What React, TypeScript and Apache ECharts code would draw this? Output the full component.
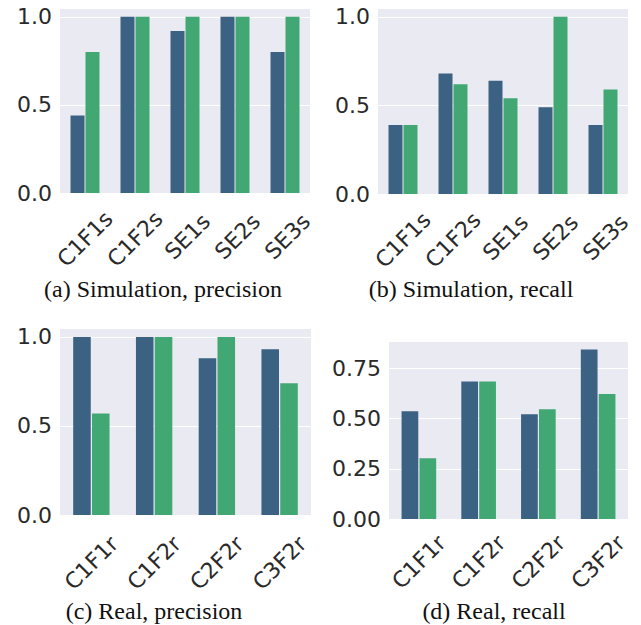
import React, { useEffect, useRef } from 'react';
import * as echarts from 'echarts';

// ---- data ----
const simCategories = ['C1F1s', 'C1F2s', 'SE1s', 'SE2s', 'SE3s'];
const realCategories = ['C1F1r', 'C1F2r', 'C2F2r', 'C3F2r'];

const simPrecisionBlue = [0.44, 1.0, 0.92, 1.0, 0.8];
const simPrecisionGreen = [0.8, 1.0, 1.0, 1.0, 1.0];

const simRecallBlue = [0.39, 0.68, 0.64, 0.49, 0.39];
const simRecallGreen = [0.39, 0.62, 0.54, 1.0, 0.59];

const realPrecisionBlue = [1.0, 1.0, 0.88, 0.93];
const realPrecisionGreen = [0.57, 1.0, 1.0, 0.74];

const realRecallBlue = [0.536, 0.685, 0.521, 0.844];
const realRecallGreen = [0.302, 0.685, 0.546, 0.622];

const captions = [
  '(a) Simulation, precision',
  '(b) Simulation, recall',
  '(c) Real, precision',
  '(d) Real, recall',
];

const precisionTickStep = 0.5;
const recallTickStep = 0.25;

// ---- styles ----
const BLUE = '#3b6283';
const GREEN = '#41a773';
const BG = '#EAEAF2';
const TXT = '#2a2a2a';
const FONT = 'DejaVu Sans';
const FS = 22;

function measure(text: string): number {
  const c = document.createElement('canvas').getContext('2d');
  if (!c) return text.length * FS * 0.6;
  c.font = `${FS}px "${FONT}"`;
  return c.measureText(text).width;
}

function categoryItems(cats: string[]) {
  const widths = cats.map(measure);
  const maxW = Math.max(...widths);
  return cats.map((c, i) => {
    const p = (maxW - widths[i]) * 0.5;
    return {
      value: c,
      textStyle: {
        align: 'center',
        verticalAlign: 'middle',
        fontFamily: FONT,
        fontSize: FS,
        color: TXT,
        padding: [0, 0, p, p],
      },
    };
  });
}

export default function App() {
  const ref = useRef<HTMLDivElement>(null);
  useEffect(() => {
    if (!ref.current) return;
    const chart = echarts.init(ref.current, undefined, { renderer: 'svg' });

    const panels = [
      { cats: simCategories, a: simPrecisionBlue, b: simPrecisionGreen, step: precisionTickStep, dec: 1,
        max: 1.05, grid: { left: 60, top: 8, width: 250, height: 185 }, margin: 46 },
      { cats: simCategories, a: simRecallBlue, b: simRecallGreen, step: precisionTickStep, dec: 1,
        max: 1.05, grid: { left: 378, top: 8, width: 250, height: 186 }, margin: 46 },
      { cats: realCategories, a: realPrecisionBlue, b: realPrecisionGreen, step: precisionTickStep, dec: 1,
        max: 1.05, grid: { left: 60, top: 328, width: 251, height: 187 }, margin: 48 },
      { cats: realCategories, a: realRecallBlue, b: realRecallGreen, step: recallTickStep, dec: 2,
        max: Math.max(...realRecallBlue, ...realRecallGreen) * 1.05,
        grid: { left: 389, top: 341, width: 239, height: 178 }, margin: 43 },
    ];

    const captionPos = [
      [163, 289],
      [471, 289],
      [154, 611],
      [494, 611],
    ];

    const grid: any[] = [];
    const xAxis: any[] = [];
    const yAxis: any[] = [];
    const series: any[] = [];

    panels.forEach((p, i) => {
      grid.push({
        ...p.grid,
        show: true,
        backgroundColor: BG,
        borderWidth: 0,
        containLabel: false,
        outerBoundsMode: 'none',
      });
      xAxis.push({
        type: 'category',
        gridIndex: i,
        data: categoryItems(p.cats),
        axisLine: { show: false },
        axisTick: { show: false },
        splitLine: { show: false },
        axisLabel: {
          interval: 0,
          rotate: 45,
          align: 'center',
          verticalAlign: 'middle',
          margin: p.margin,
          fontFamily: FONT,
          fontSize: FS,
          color: TXT,
          hideOverlap: false,
        },
      });
      yAxis.push({
        type: 'value',
        gridIndex: i,
        min: 0,
        max: p.max,
        interval: p.step,
        axisLine: { show: false },
        axisTick: { show: false },
        splitLine: { show: true, lineStyle: { color: '#ffffff', width: 1.2 } },
        axisLabel: {
          margin: 8,
          fontFamily: FONT,
          fontSize: FS,
          color: TXT,
          showMaxLabel: false,
          formatter: (v: number) => v.toFixed(p.dec),
        },
      });
      series.push({
        type: 'bar',
        xAxisIndex: i,
        yAxisIndex: i,
        data: p.a,
        barWidth: '28%',
        barGap: '7%',
        itemStyle: { color: BLUE },
      });
      series.push({
        type: 'bar',
        xAxisIndex: i,
        yAxisIndex: i,
        data: p.b,
        barWidth: '28%',
        barGap: '7%',
        itemStyle: { color: GREEN },
      });
    });

    chart.setOption({
      animation: false,
      backgroundColor: '#ffffff',
      grid,
      xAxis,
      yAxis,
      series,
      graphic: captions.map((t, i) => ({
        type: 'text',
        x: captionPos[i][0],
        y: captionPos[i][1],
        style: {
          text: t,
          fontFamily: 'Liberation Serif',
          fontSize: 24,
          fill: '#111111',
          align: 'center',
          verticalAlign: 'middle',
        },
      })),
    });

    return () => chart.dispose();
  }, []);

  return (
    <div
      ref={ref}
      style={{ position: 'absolute', left: 0, top: 0, width: 641, height: 625 }}
    />
  );
}
